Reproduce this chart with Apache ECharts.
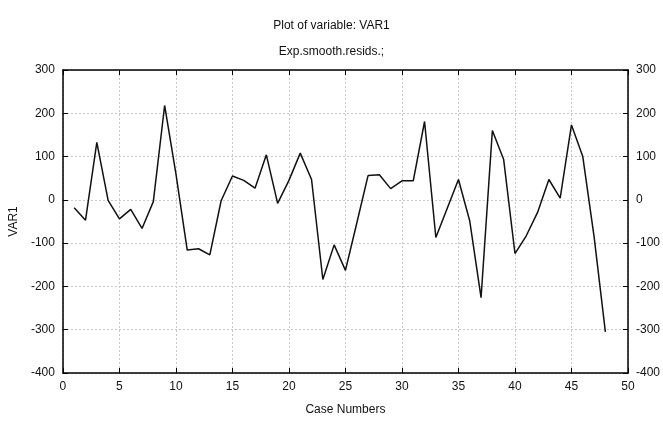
<!DOCTYPE html>
<html>
<head>
<meta charset="utf-8">
<script src="https://cdn.jsdelivr.net/npm/echarts@6/dist/echarts.min.js"></script>
<style>
  html, body { margin: 0; padding: 0; background: #fff; }
  #chartWrapper { width: 663px; height: 423px; }
</style>
</head>
<body>
<div id="chartWrapper"></div>
<script>
// 資料
const caseNumbers = [1,2,3,4,5,6,7,8,9,10,11,12,13,14,15,16,17,18,19,20,21,22,23,24,
                     25,26,27,28,29,30,31,32,33,34,35,36,37,38,39,40,41,42,43,44,45,46,47,48]
const var1Values = [-18,-47,133,-1,-44,-22,-66,-4,218,60,-116,-113,-127,-2,55,45,27,104,-8,45,108,47,-184,-104,
                    -163,-54,56,58,26,44,44,181,-87,-20,47,-49,-226,160,93,-124,-83,-29,47,4,173,100,-85,-305]
const xTicks = [0,5,10,15,20,25,30,35,40,45,50]
const yTicks = [-400,-300,-200,-100,0,100,200,300]

const font = "'Liberation Sans', Arial, sans-serif"
const myChart = echarts.init(document.getElementById("chartWrapper"))

const gridLine = { show: true, lineStyle: { color: "#c8c8c8", type: [2, 2], width: 1 } }
const frameLine = { show: true, onZero: false, lineStyle: { color: "#000", width: 1.5 } }
const tickStyle = { show: true, inside: true, length: 5, lineStyle: { color: "#000" } }
const labelStyle = { fontFamily: font, fontSize: 12, color: "#111", margin: 8 }

let option = {
  backgroundColor: "#fff",
  animation: false,
  title: [
    { text: "Plot of variable: VAR1", left: "center", top: 15,
      textStyle: { fontFamily: font, fontSize: 12, fontWeight: "normal", color: "#111" } },
    { text: "Exp.smooth.resids.;", left: "center", top: 41,
      textStyle: { fontFamily: font, fontSize: 12, fontWeight: "normal", color: "#111" } }
  ],
  grid: { left: 62, right: 35, top: 70, bottom: 50, show: true, backgroundColor: "#fff", borderWidth: 0 },
  xAxis: [
    {
      type: "value", min: xTicks[0], max: xTicks[xTicks.length - 1], interval: 5,
      position: "bottom",
      name: "Case Numbers", nameLocation: "middle", nameGap: 31,
      nameTextStyle: { fontFamily: font, fontSize: 12, color: "#111" },
      axisLine: frameLine,
      axisTick: tickStyle,
      axisLabel: labelStyle,
      splitLine: gridLine
    },
    {
      type: "value", min: xTicks[0], max: xTicks[xTicks.length - 1], interval: 5,
      position: "top",
      axisLine: frameLine,
      axisTick: tickStyle,
      axisLabel: { show: false },
      splitLine: { show: false }
    }
  ],
  yAxis: [
    {
      type: "value", min: yTicks[0], max: yTicks[yTicks.length - 1], interval: 100,
      position: "left",
      name: "VAR1", nameLocation: "middle", nameGap: 42, nameRotate: 90,
      nameTextStyle: { fontFamily: font, fontSize: 12, color: "#111" },
      axisLine: frameLine,
      axisTick: tickStyle,
      axisLabel: labelStyle,
      splitLine: gridLine
    },
    {
      type: "value", min: yTicks[0], max: yTicks[yTicks.length - 1], interval: 100,
      position: "right",
      axisLine: frameLine,
      axisTick: tickStyle,
      axisLabel: labelStyle,
      splitLine: { show: false }
    }
  ],
  series: [
    {
      type: "line",
      xAxisIndex: 0,
      yAxisIndex: 0,
      showSymbol: false,
      symbol: "none",
      lineStyle: { color: "#111", width: 1.5 },
      data: caseNumbers.map((c, i) => [c, var1Values[i]])
    }
  ]
}

myChart.setOption(option)
</script>
</body>
</html>
